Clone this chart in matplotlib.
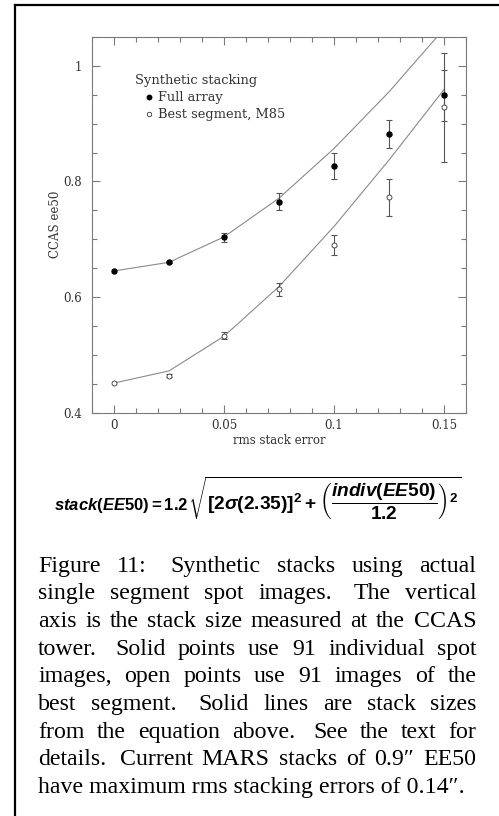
import matplotlib
matplotlib.use('Agg')
import matplotlib.pyplot as plt
from matplotlib.lines import Line2D

# values
stack_err = [0, 0.025, 0.05, 0.075, 0.1, 0.125, 0.15]
full_ee50 = [0.645, 0.660, 0.703, 0.765, 0.827, 0.882, 0.949]
full_err = [0.0, 0.002, 0.007, 0.015, 0.023, 0.024, 0.044]
best_ee50 = [0.451, 0.464, 0.533, 0.613, 0.690, 0.773, 0.928]
best_err = [0.0, 0.003, 0.006, 0.011, 0.017, 0.032, 0.095]
full_model = [0.645, 0.660, 0.704, 0.771, 0.857, 0.955, 1.064]
best_model = [0.451, 0.472, 0.532, 0.618, 0.722, 0.837, 0.959]

xticks = [0, 0.05, 0.1, 0.15]
xticklabels = ['0', '0.05', '0.1', '0.15']
yticks = [0.4, 0.6, 0.8, 1.0]
yticklabels = ['0.4', '0.6', '0.8', '1']

caption = [
    "Figure 11:  Synthetic stacks using actual",
    "single segment spot images.  The vertical",
    "axis is the stack size measured at the CCAS",
    "tower.  Solid points use 91 individual spot",
    "images, open points use 91 images of the",
    "best segment.  Solid lines are stack sizes",
    "from the equation above.  See the text for",
    "details.  Current MARS stacks of 0.9\u2033 EE50",
    "have maximum rms stacking errors of 0.14\u2033.",
]

plt.rcParams['mathtext.fontset'] = 'custom'
plt.rcParams['mathtext.rm'] = 'Liberation Sans:bold'
plt.rcParams['mathtext.it'] = 'Liberation Sans:bold:italic'
plt.rcParams['mathtext.bf'] = 'Liberation Sans:bold'

W, H = 499, 816
fig = plt.figure(figsize=(W / 100, H / 100), dpi=100)

# axes box (pixel positions of the reference)
ax_l, ax_r, ax_t, ax_b = 92, 466, 37, 412.5
ax = fig.add_axes([ax_l / W, 1 - ax_b / H, (ax_r - ax_l) / W, (ax_b - ax_t) / H])

plot_font = dict(family='DejaVu Serif', size=8.5, color='#333333')
legend_font = dict(family='DejaVu Serif', size=9.4, color='#333333')
gray = '#7a7a7a'

# model curves
ax.plot(stack_err, full_model, color='#8a8a8a', lw=0.8)
ax.plot(stack_err, best_model, color='#8a8a8a', lw=0.8)

# error bars (none at zero stack error)
ax.errorbar(stack_err[1:], full_ee50[1:], yerr=full_err[1:], fmt='none',
            ecolor='#555555', elinewidth=0.8, capsize=2.2, capthick=0.8)
ax.errorbar(stack_err[1:], best_ee50[1:], yerr=best_err[1:], fmt='none',
            ecolor='#555555', elinewidth=0.8, capsize=2.2, capthick=0.8)

ax.plot(stack_err, full_ee50, 'o', color='black', ms=3.6, zorder=5)
ax.plot(stack_err, best_ee50, 'o', mfc='white', mec='#333333', mew=0.6, ms=3.6, zorder=5)

ax.set_xlim(-0.01, 0.16)
ax.set_ylim(0.4, 1.05)
ax.set_xticks(xticks)
ax.set_xticklabels(xticklabels, **plot_font)
ax.set_yticks(yticks)
ax.set_yticklabels(yticklabels, **plot_font)
ax.set_xticks([i / 100 for i in range(-1, 17)], minor=True)
ax.set_yticks([0.4 + 0.05 * i for i in range(14)], minor=True)
ax.tick_params(which='both', direction='in', top=True, right=True, color=gray, width=0.8)
ax.tick_params(which='major', length=6)
ax.tick_params(which='minor', length=3.5)
ax.tick_params(axis='y', pad=7)
ax.tick_params(axis='x', pad=5)
for s in ax.spines.values():
    s.set_color(gray)
    s.set_linewidth(0.8)

ax.set_xlabel('rms stack error', labelpad=1, **plot_font)
ax.set_ylabel('CCAS ee50', labelpad=1, **plot_font)

# hand drawn legend
ax.text(0.115, 0.875, 'Synthetic stacking', transform=ax.transAxes, va='baseline', **legend_font)
ax.plot([0.152], [0.839], 'o', color='black', ms=3.2, transform=ax.transAxes, clip_on=False)
ax.plot([0.152], [0.794], 'o', mfc='white', mec='#333333', mew=0.6, ms=3.2,
        transform=ax.transAxes, clip_on=False)
ax.text(0.176, 0.830, 'Full array', transform=ax.transAxes, va='baseline', **legend_font)
ax.text(0.176, 0.785, 'Best segment, M85', transform=ax.transAxes, va='baseline', **legend_font)

# equation: small left-hand side, larger square root
eq_base = 1 - 510 / H
fig.text(188 / W, eq_base, r'$stack(EE50)=1.2$',
         ha='right', va='baseline', fontsize=12, color='black')
fig.text(188 / W, eq_base,
         r'$\sqrt{\left[2\sigma(2.35)\right]^2+\left(\dfrac{indiv(EE50)}{1.2}\right)^2}$',
         ha='left', va='baseline', fontsize=13.8, color='black')

# justified caption
cap_font = dict(family=['Liberation Serif', 'DejaVu Serif'], size=17.2, color='black')
left, right = 38.3, 476.5
base0, step = 571.7, 27.66
renderer = fig.canvas.get_renderer()
for i, line in enumerate(caption):
    yb = 1 - (base0 + i * step) / H
    if i == len(caption) - 1:
        fig.text(left / W, yb, line, va='baseline', **cap_font)
        continue
    words = line.split()
    texts = [fig.text(0, yb, w, va='baseline', **cap_font) for w in words]
    widths = [t.get_window_extent(renderer).width for t in texts]
    weights = [1.45 if w[-1] in '.:' else 1.0 for w in words[:-1]]
    unit = (right - left - sum(widths)) / sum(weights)
    x = left
    for j, t in enumerate(texts):
        t.set_x(x / W)
        if j < len(weights):
            x += widths[j] + unit * weights[j]

# page frame (left and top edge)
fig.add_artist(Line2D([15 / W, 15 / W], [0, 1 - 5 / H], color='black', lw=1.6))
fig.add_artist(Line2D([15 / W, 1], [1 - 5 / H, 1 - 5 / H], color='black', lw=1.6))

fig.savefig('out.png', dpi=100)
